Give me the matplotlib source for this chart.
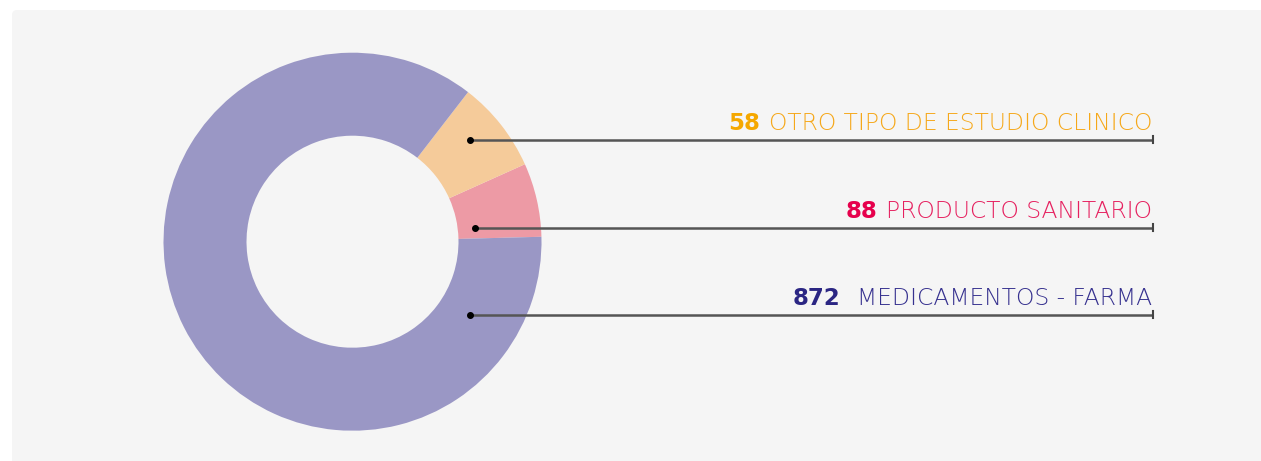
import matplotlib
matplotlib.use("Agg")
import matplotlib.pyplot as plt
from matplotlib.patches import FancyBboxPatch

# data (counts shown in the labels, slice shares as drawn in the reference, %)
categories = ["MEDICAMENTOS - FARMA", "PRODUCTO SANITARIO", "OTRO TIPO DE ESTUDIO CLINICO"]
counts = [872, 88, 58]
slice_pct = [85.8, 6.3, 7.8]
slice_colors = ["#9a97c5", "#ed9aa5", "#f5cb9a"]
num_colors = ["#2b2683", "#e6004c", "#f5a800"]
label_colors = ["#36318f", "#e6205f", "#f5a81a"]

W, H = 1261, 461
fig = plt.figure(figsize=(W / 100, H / 100), dpi=100, facecolor="white")
ax = fig.add_axes([0, 0, 1, 1])
ax.set_xlim(0, W); ax.set_ylim(0, H)
ax.set_aspect("equal"); ax.axis("off")

# light grey panel
ax.add_patch(FancyBboxPatch((12, -20), W + 20, H - 10 + 20, boxstyle="round,pad=0,rounding_size=5",
                            fc="#f5f5f5", ec="none", zorder=0))

# donut: pink, peach, purple going counter-clockwise from ~1.5 deg
order = [1, 2, 0]
cx, cy, r = 352.5, H - 241.7, 189
ax.pie([slice_pct[i] for i in order], colors=[slice_colors[i] for i in order],
       startangle=1.5, counterclock=True, center=(cx, cy), radius=r,
       wedgeprops=dict(width=r - 106, linewidth=0), frame=True)
ax.set_xlim(0, W); ax.set_ylim(0, H); ax.axis("off")

# leader lines + labels (y in image pixels of each leader)
leader_y = [314.5, 228, 140]
leader_x0 = [470, 475, 470]
x_end = 1153
renderer = fig.canvas.get_renderer()
for i in range(3):
    y = H - leader_y[i]
    ax.plot([leader_x0[i], x_end], [y, y], color="#555555", lw=1.8, solid_capstyle="butt", zorder=3)
    ax.plot(leader_x0[i], y, "o", color="black", ms=4, zorder=4)
    ax.plot([x_end, x_end], [y - 3.5, y + 3.5], color="#444444", lw=1.5, zorder=4)
    t = ax.text(x_end - 1, y + 9.5, categories[i], ha="right", va="baseline",
                fontsize=16.8, color=label_colors[i], family="DejaVu Sans", fontweight="light", zorder=5)
    bb = t.get_window_extent(renderer=renderer)
    x_left = ax.transData.inverted().transform((bb.x0, bb.y0))[0]
    gap = 17 if counts[i] >= 100 else 9
    ax.text(x_left - gap, y + 9.5, str(counts[i]), ha="right", va="baseline",
            fontsize=16.5, color=num_colors[i], family="DejaVu Sans", fontweight="heavy", zorder=5)

fig.savefig("out.png", dpi=100, facecolor="white")
